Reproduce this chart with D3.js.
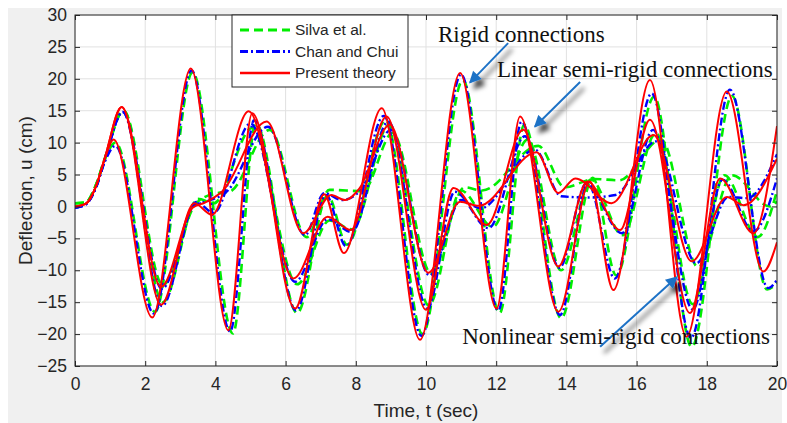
<!DOCTYPE html>
<html>
<head>
<meta charset="utf-8">
<script src="https://cdn.jsdelivr.net/npm/d3@7"></script>
<style>
body { margin: 0; background: #fff; }
text { font-family: "Liberation Sans", Arial, sans-serif; fill: #262626; }
.note { font-family: "Liberation Serif", "Times New Roman", serif; font-size: 23px; fill: #111; }
</style>
</head>
<body>
<svg width="787" height="423"></svg>
<script>
// time (s), deflection (cm)
var rigidSilva = [[0,0.5],[0.3,0.6],[0.6,3.4],[0.85,7.4],[1.15,10.0],[2.28,-16.5],[3.35,21.0],[4.5,-19.9],[5.15,13.0],[6.33,-16.7],[7.2,1.7],[7.75,-6.0],[8.85,13.5],[9.9,-20.0],[11.05,19.8],[12.1,-16.7],[12.8,12.8],[13.85,-17.5],[14.75,4.5],[15.42,-10.8],[16.5,17.2],[17.57,-22.0],[18.72,17.3],[19.72,-13.0],[20,-12.0]];
var rigidChan = [[0,-0.2],[0.3,0.3],[0.6,3.0],[0.85,7.0],[1.15,9.5],[2.25,-16.8],[3.32,21.3],[4.42,-19.6],[5.1,13.5],[6.3,-16.3],[7.15,1.8],[7.72,-6.2],[8.8,14.2],[9.87,-20.3],[11.0,20.7],[12.06,-16.3],[12.72,13.3],[13.82,-17.0],[14.62,3.6],[15.38,-11.3],[16.43,17.7],[17.55,-20.6],[18.66,18.3],[19.75,-12.8],[20,-11.5]];
var rigidPresent = [[0,0],[0.3,0.4],[0.6,3.2],[0.85,7.5],[1.1,10.5],[2.2,-17.4],[3.3,21.6],[4.37,-19.4],[5.05,14.6],[6.27,-16.0],[7.1,1.9],[7.66,-7.3],[8.74,15.4],[9.83,-20.9],[10.97,20.9],[12.01,-16.0],[12.68,14.1],[13.77,-16.5],[14.67,3.9],[15.34,-13.1],[16.38,19.8],[17.42,-20.4],[18.57,18.0],[19.61,-10.2],[20,-5.6]];

var linearSilva = [[0,0.5],[0.3,0.6],[0.6,3.4],[0.85,7.5],[1.38,15.0],[2.5,-15.0],[3.5,1.2],[3.95,0.5],[5.05,12.3],[6.33,-12.2],[7.25,-2.2],[7.9,-3.6],[8.95,12.8],[10.08,-15.5],[11.0,2.5],[11.9,-3.2],[12.9,10.5],[13.85,-10.0],[14.7,4.2],[15.6,-4.5],[16.55,11.5],[17.6,-15.3],[18.5,4.9],[19.45,-4.8],[20,2.5]];
var linearChan = [[0,-0.2],[0.3,0.3],[0.6,3.0],[0.85,7.3],[1.36,14.8],[2.48,-15.6],[3.45,0.7],[3.95,-1.0],[5.0,13.0],[6.27,-11.8],[7.2,-2.0],[7.88,-4.0],[8.93,13.3],[10.04,-16.0],[10.82,2.3],[11.78,-3.4],[12.82,11.0],[13.8,-9.6],[14.57,3.6],[15.58,-4.2],[16.47,12.0],[17.6,-16.1],[18.45,4.2],[19.33,-3.9],[20,4.4]];
var linearPresent = [[0,0],[0.3,0.4],[0.6,3.2],[0.85,7.6],[1.33,15.6],[2.45,-15.4],[3.4,0.5],[3.9,-1.3],[4.95,14.9],[6.22,-11.3],[7.2,-1.6],[7.85,-3.7],[8.88,14.1],[10.0,-16.2],[10.78,2.9],[11.73,-2.9],[12.77,12.0],[13.77,-9.4],[14.6,3.9],[15.53,-3.7],[16.38,13.6],[17.52,-16.7],[18.38,4.4],[19.33,-4.2],[20,12.6]];

var nonlinearSilva = [[0,0.5],[0.3,0.6],[0.6,3.4],[0.85,7.5],[1.38,15.0],[2.5,-12.3],[3.45,0.5],[4.05,2.1],[4.4,2.3],[5.55,12.0],[6.6,-4.8],[7.25,2.6],[8.2,2.4],[9.05,11.5],[10.15,-10.5],[11.1,3.0],[11.6,2.5],[13.2,9.5],[13.95,3.0],[14.8,4.3],[15.5,4.1],[16.7,10.5],[17.75,-9.5],[18.72,4.9],[19.8,0.0],[20,0.8]];
var nonlinearChan = [[0,-0.2],[0.3,0.3],[0.6,3.0],[0.85,7.3],[1.36,14.8],[2.48,-12.9],[3.4,0.2],[3.75,0.8],[4.3,2.2],[5.5,12.5],[6.55,-4.5],[7.1,2.1],[7.6,1.0],[8.15,2.6],[9.0,12.0],[10.1,-10.8],[11.0,1.0],[11.55,-0.3],[13.1,8.9],[13.85,1.6],[14.6,1.4],[15.4,1.8],[16.55,10.2],[17.7,-8.9],[18.62,1.5],[19.15,1.3],[20,8.2]];
var nonlinearPresent = [[0,0],[0.3,0.4],[0.6,3.2],[0.85,7.6],[1.33,15.6],[2.45,-12.6],[3.35,-0.2],[3.7,0.6],[4.2,2.4],[5.46,13.3],[6.5,-4.2],[7.3,1.8],[7.7,1.0],[8.1,2.8],[8.97,12.8],[10.07,-10.4],[10.97,0.75],[11.5,0.1],[13.15,8.5],[13.77,2.1],[14.25,4.4],[15.29,0.5],[16.48,11.2],[17.57,-8.6],[18.57,1.5],[19.05,0.2],[20,7.5]];

var xTicks = [0, 2, 4, 6, 8, 10, 12, 14, 16, 18, 20];
var yTicks = [-25, -20, -15, -10, -5, 0, 5, 10, 15, 20, 25, 30];
var legendLabels = ["Silva et al.", "Chan and Chui", "Present theory"];

var svg = d3.select("svg"),
    margin = {top: 15, right: 10, bottom: 57, left: 75},
    width = 787 - margin.left - margin.right,
    height = 423 - margin.top - margin.bottom;

// matlab figure grey
svg.append("rect").attr("x", 8).attr("y", 8).attr("width", 774).attr("height", 415).attr("fill", "#f0f0f0");

var x = d3.scaleLinear().domain([0, 20]).range([0, width]),
    y = d3.scaleLinear().domain([-25, 30]).range([height, 0]);

var defs = svg.append("defs");
defs.append("clipPath").attr("id", "clip")
    .append("rect").attr("width", width).attr("height", height);
var shadow = defs.append("filter").attr("id", "shadow")
    .attr("x", "-50%").attr("y", "-50%").attr("width", "200%").attr("height", "200%");
shadow.append("feDropShadow").attr("dx", 4).attr("dy", 6).attr("stdDeviation", 2.5)
    .attr("flood-color", "#000").attr("flood-opacity", 0.75);
defs.append("marker").attr("id", "head")
    .attr("viewBox", "0 0 10 10").attr("refX", 9).attr("refY", 5)
    .attr("markerWidth", 7).attr("markerHeight", 6).attr("markerUnits", "strokeWidth")
    .attr("orient", "auto")
    .append("path").attr("d", "M0,0L10,5L0,10z").attr("fill", "#1f72c6");

var g = svg.append("g")
    .attr("transform", "translate(" + margin.left + "," + margin.top + ")");

g.append("rect").attr("width", width).attr("height", height).attr("fill", "#fff");

// grid
g.selectAll(".gx").data(xTicks).enter().append("line")
    .attr("x1", d => x(d)).attr("x2", d => x(d)).attr("y1", 0).attr("y2", height)
    .attr("stroke", "#e1e1e1");
g.selectAll(".gy").data(yTicks).enter().append("line")
    .attr("y1", d => y(d)).attr("y2", d => y(d)).attr("x1", 0).attr("x2", width)
    .attr("stroke", "#e1e1e1");

// curves
var line = d3.line()
    .x(d => x(d[0]))
    .y(d => y(d[1]))
    .curve(d3.curveMonotoneX);

var styles = {
    silva: {stroke: "#00ee00", width: 2.6, dash: "9,5"},
    chan: {stroke: "#0000ff", width: 2.4, dash: "8,3,2,3"},
    present: {stroke: "#ff0000", width: 2, dash: null}
};
var curves = [
    [rigidSilva, "silva"], [linearSilva, "silva"], [nonlinearSilva, "silva"],
    [rigidChan, "chan"], [linearChan, "chan"], [nonlinearChan, "chan"],
    [rigidPresent, "present"], [linearPresent, "present"], [nonlinearPresent, "present"]
];

var plot = g.append("g").attr("clip-path", "url(#clip)");
plot.selectAll(".curve").data(curves).enter().append("path")
    .attr("class", "curve")
    .attr("fill", "none")
    .attr("d", d => line(d[0]))
    .attr("stroke", d => styles[d[1]].stroke)
    .attr("stroke-width", d => styles[d[1]].width)
    .attr("stroke-dasharray", d => styles[d[1]].dash);

// axes, ticks pointing inward like matlab
var axisColor = "#262626";
function styleAxis(sel) {
    sel.select(".domain").remove();
    sel.selectAll(".tick line").attr("stroke", axisColor);
    sel.selectAll(".tick text").attr("fill", axisColor).style("font-size", "17.5px");
}
g.append("g").attr("transform", "translate(0," + height + ")")
    .call(d3.axisBottom(x).tickValues(xTicks).tickSize(-5).tickPadding(12))
    .call(styleAxis);
g.append("g")
    .call(d3.axisTop(x).tickValues(xTicks).tickSize(-5).tickFormat(""))
    .call(styleAxis);
g.append("g")
    .call(d3.axisLeft(y).tickValues(yTicks).tickSize(-5).tickPadding(8))
    .call(styleAxis);
g.append("g").attr("transform", "translate(" + width + ",0)")
    .call(d3.axisRight(y).tickValues(yTicks).tickSize(-5).tickFormat(""))
    .call(styleAxis);
g.append("rect").attr("width", width).attr("height", height)
    .attr("fill", "none").attr("stroke", axisColor).attr("stroke-width", 1);

g.append("text")
    .attr("x", width / 2).attr("y", height + 51)
    .attr("text-anchor", "middle").style("font-size", "19px")
    .text("Time, t (sec)");
g.append("text")
    .attr("transform", "rotate(-90)")
    .attr("x", -height / 2).attr("y", -43)
    .attr("text-anchor", "middle").style("font-size", "19px")
    .text("Deflection, u (cm)");

// legend
var legend = g.append("g").attr("transform", "translate(" + (232 - margin.left) + ",0)");
legend.append("rect").attr("width", 176).attr("height", 72)
    .attr("fill", "#fff").attr("stroke", axisColor);
var legendKeys = ["silva", "chan", "present"];
legendKeys.forEach(function (k, i) {
    var ly = 15 + i * 21.5;
    legend.append("line").attr("x1", 8).attr("x2", 58).attr("y1", ly).attr("y2", ly)
        .attr("stroke", styles[k].stroke).attr("stroke-width", styles[k].width + 0.6)
        .attr("stroke-dasharray", styles[k].dash);
    legend.append("text").attr("x", 63).attr("y", ly).attr("dy", "0.35em")
        .style("font-size", "15.5px").text(legendLabels[i]);
});

// annotations
var notes = [
    {text: "Rigid connections", tx: 10.34, ty: 25.8, x1: 12.34, y1: 25.6, x2: 11.25, y2: 19.4},
    {text: "Linear semi-rigid connections", tx: 12.02, ty: 20.3, x1: 14.39, y1: 19.5, x2: 13.1, y2: 12.5},
    {text: "Nonlinear semi-rigid connections", tx: 11.03, ty: -21.55, x1: 14.96, y1: -22.0, x2: 17.15, y2: -11.05}
];
var arrows = g.append("g").attr("filter", "url(#shadow)");
arrows.selectAll("line").data(notes).enter().append("line")
    .attr("x1", d => x(d.x1)).attr("y1", d => y(d.y1))
    .attr("x2", d => x(d.x2)).attr("y2", d => y(d.y2))
    .attr("stroke", "#1f72c6").attr("stroke-width", 2)
    .attr("marker-end", "url(#head)");
g.selectAll(".note").data(notes).enter().append("text")
    .attr("class", "note")
    .attr("x", d => x(d.tx)).attr("y", d => y(d.ty))
    .text(d => d.text);
</script>
</body>
</html>
